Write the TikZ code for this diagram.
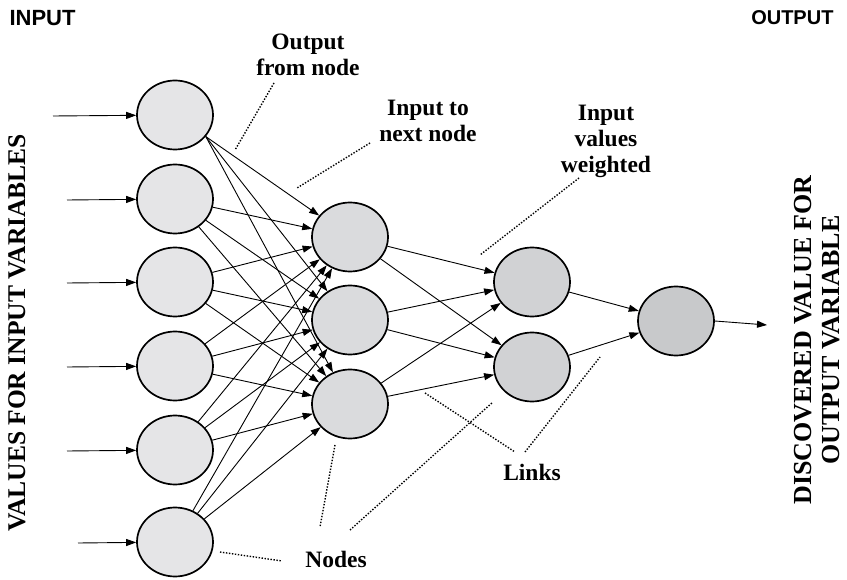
\documentclass[tikz,border=0pt]{standalone}
\usepackage{fontspec}
\setmainfont{Liberation Serif}
\setsansfont{Liberation Sans}
\usetikzlibrary{shapes.geometric,arrows.meta}
\definecolor{fillA}{HTML}{E5E5E7}
\definecolor{fillB}{HTML}{DADBDD}
\definecolor{fillC}{HTML}{D1D2D4}
\definecolor{fillD}{HTML}{C8C9CB}
\begin{document}
\begin{tikzpicture}[x=1pt,y=-1pt,
 neuron/.style={ellipse,draw=black,line width=1.7pt,minimum width=76pt,minimum height=69pt,inner sep=0pt},
 link/.style={line width=0.9pt,-{Triangle[length=10pt,width=7pt]}},
 pointer/.style={line width=1.4pt,dash pattern=on 1.4pt off 1.6pt},
 lbl/.style={font=\fontsize{23.5}{26}\selectfont\bfseries,align=center},
 head/.style={font=\sffamily\bfseries\fontsize{22}{26}\selectfont},
 side/.style={font=\fontsize{25.5}{28}\selectfont\bfseries,align=center,rotate=90}
]
\useasboundingbox (0,0) rectangle (847,580);

% nodes
\node[neuron,fill=fillA] (i1) at (175,115) {};
\node[neuron,fill=fillA] (i2) at (175,199) {};
\node[neuron,fill=fillA] (i3) at (175,282) {};
\node[neuron,fill=fillA] (i4) at (175,366) {};
\node[neuron,fill=fillA] (i5) at (175,450) {};
\node[neuron,fill=fillA] (i6) at (175,542) {};
\node[neuron,fill=fillB] (h1) at (350,237) {};
\node[neuron,fill=fillB] (h2) at (350,320) {};
\node[neuron,fill=fillB] (h3) at (350,404) {};
\node[neuron,fill=fillC] (g1) at (532,282) {};
\node[neuron,fill=fillC] (g2) at (532,367) {};
\node[neuron,fill=fillD] (o) at (676,321) {};

% input arrows
\coordinate (s1) at (53,116);
\coordinate (s2) at (67,200);
\coordinate (s3) at (67,283);
\coordinate (s4) at (67,367);
\coordinate (s5) at (67,451);
\coordinate (s6) at (78,543);
\foreach \k in {1,...,6} {\draw[link] (s\k) -- (i\k);}

% input -> hidden
\foreach \h in {h1,h2,h3} {
  \draw[link] (i1.-35) -- (\h);
  \foreach \k in {2,...,6} {\draw[link] (i\k) -- (\h);}
}
% hidden -> hidden2
\foreach \h in {h1,h2,h3} {
  \foreach \g in {g1,g2} {\draw[link] (\h) -- (\g);}
}
\draw[link] (g1) -- (o);
\draw[link] (g2) -- (o);
\coordinate (fin) at (767,325);
\draw[link] (o.east) -- (fin);

% labels
\node[head,anchor=west] (tin) at (6,18) {INPUT};
\node[head,anchor=east,font=\sffamily\bfseries\fontsize{20}{24}\selectfont] (tout) at (837,18) {OUTPUT};
\node[lbl] (lOut) at (308,55) {Output\\from node};
\node[lbl] (lIn) at (428,121) {Input to\\next node};
\node[lbl] (lW) at (606,141) {Input\\values\\weighted};
\node[lbl] (lLinks) at (532,472) {Links};
\node[lbl] (lNodes) at (336,559) {Nodes};
\node[side] (lv) at (17,333) {VALUES FOR INPUT VARIABLES};
\node[side,font=\fontsize{26}{28}\selectfont\bfseries] (rv) at (817,340) {DISCOVERED VALUE FOR\\OUTPUT VARIABLE};

% dotted pointers
\coordinate (p1a) at (274,83);   \coordinate (p1b) at (235,150);
\coordinate (p2a) at (370,143);  \coordinate (p2b) at (297,188);
\coordinate (p3a) at (579,178);  \coordinate (p3b) at (480,255);
\coordinate (p4a) at (425,393);  \coordinate (p4b) at (515,452);
\coordinate (p5a) at (525,452);  \coordinate (p5b) at (600,357);
\coordinate (p6a) at (335,445);  \coordinate (p6b) at (320,527);
\coordinate (p7a) at (350,530);  \coordinate (p7b) at (493,402);
\coordinate (p8a) at (220,552);  \coordinate (p8b) at (282,561);
\foreach \k in {1,...,8} {\draw[pointer] (p\k a) -- (p\k b);}
\end{tikzpicture}
\end{document}
